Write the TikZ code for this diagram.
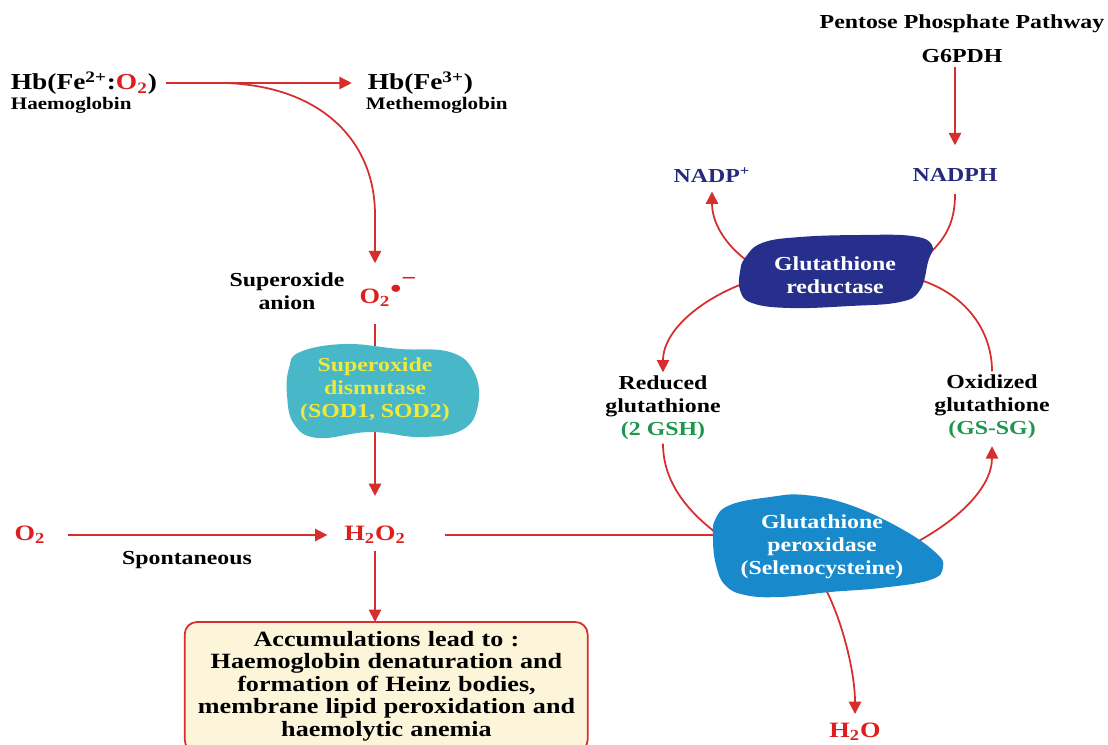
\documentclass[tikz,border=0pt]{standalone}
\usepackage{fontspec}
\setmainfont{Liberation Serif}[FakeStretch=1.2]
\usetikzlibrary{arrows.meta, backgrounds}

\definecolor{redline}{RGB}{214,45,45}
\definecolor{redtext}{RGB}{222,30,30}
\definecolor{navytext}{RGB}{40,40,125}
\definecolor{gshtext}{RGB}{30,150,80}
\definecolor{sodfill}{RGB}{72,184,200}
\definecolor{sodtext}{RGB}{240,232,60}
\definecolor{grfill}{RGB}{38,48,140}
\definecolor{gpxfill}{RGB}{24,138,204}
\definecolor{accfill}{RGB}{253,245,218}

\begin{document}
\begin{tikzpicture}[x=0.02cm, y=-0.02cm]
 \tikzset{
 	lbl/.style={font=\fontsize{11.3}{13}\selectfont\bfseries, align=center, inner sep=2pt},
 	hbf/.style={lbl, font=\fontsize{13}{15}\selectfont\bfseries},
 	subl/.style={lbl, font=\fontsize{10}{11}\selectfont\bfseries},
 	chem/.style={lbl, text=redtext, font=\fontsize{12.5}{14}\selectfont\bfseries},
 	coenz/.style={lbl, text=navytext},
 	enz/.style={lbl, text=white},
 	link/.style={draw=redline, line width=1pt},
 	react/.style={link, -{Triangle[length=7pt, width=7pt]}},
 	accbox/.style={draw=redline, line width=1pt, fill=accfill, rounded corners=7pt}
 }
 \useasboundingbox (0,0) rectangle (1108,744);

 % haemoglobin side
 \node[hbf, anchor=west] (hb) at (7,83) {Hb(Fe\textsuperscript{2+}:\textcolor{redtext}{O\textsubscript{2}})};
 \node[subl, anchor=west] (hbname) at (7,105) {Haemoglobin};
 \node[hbf, anchor=west] (methb) at (364,83) {Hb(Fe\textsuperscript{3+})};
 \node[subl, anchor=west] (methbname) at (362,105) {Methemoglobin};
 \coordinate (br) at (225,83);
 \node[lbl] (supan) at (287,291) {Superoxide\\anion};
 \node[chem] (so) at (375,292) {O\textsubscript{2}\rlap{\raisebox{.25em}{\fontsize{15}{15}\selectfont•}\raisebox{.8em}{−}}};
 \node[lbl, text=sodtext] (sod) at (375,390) {Superoxide\\dismutase\\(SOD1, SOD2)};
 \node[chem] (o2) at (30,535) {O\textsubscript{2}};
 \node[chem] (h2o2) at (375,535) {H\textsubscript{2}O\textsubscript{2}};
 \node[lbl] (spont) at (187,560) {Spontaneous};
 \node[lbl, anchor=north, text width=8.06cm, inner xsep=0pt, inner ysep=5pt,
 	font=\fontsize{12.4}{12.8}\selectfont\bfseries] (acc) at (386.5,622)
 	{Accumulations lead to :\\ Haemoglobin denaturation and\\ formation of Heinz bodies,\\ membrane lipid peroxidation and\\ haemolytic anemia};

 % glutathione side
 \node[lbl] (ppp) at (962,24) {Pentose Phosphate Pathway};
 \node[lbl] (g6pd) at (962,56) {G6PDH};
 \node[coenz] (nadph) at (955,175) {NADPH};
 \node[coenz] (nadp) at (712,175) {NADP\textsuperscript{+}};
 \node[enz] (gr) at (835,275) {Glutathione\\reductase};
 \node[lbl] (gsh) at (663,408) {Reduced\\glutathione\\\textcolor{gshtext}{(2 GSH)}};
 \node[lbl] (gssg) at (992,407) {Oxidized\\glutathione\\\textcolor{gshtext}{(GS-SG)}};
 \node[enz] (gpx) at (822,547) {Glutathione\\peroxidase\\(Selenocysteine)};
 \node[chem] (h2o) at (855,732) {H\textsubscript{2}O};

 \begin{scope}[on background layer]
 	\draw[react, shorten <=3pt, shorten >=7pt] (hb.east) -- (methb.west);
 	\draw[react, shorten >=6pt] (br) .. controls (320,86) and (375,140) .. (375,215) -- (so.north);
 	\draw[link, shorten <=8pt] (so.south) -- (sod.center);
 	\draw[react, shorten >=15pt] (sod.center) -- (h2o2.north);
 	\draw[react, shorten <=11pt, shorten >=7.5pt] (o2.east) -- (h2o2.west);
 	\draw[link, shorten <=20pt] (h2o2.east) -- (h2o2.east -| gpx.west);
 	\draw[react, shorten <=2pt] (h2o2.south) -- (h2o2.south |- acc.north);
 	\draw[react, shorten >=11pt] (g6pd.south -| nadph.north) -- (nadph.north);
 	\draw[link, shorten <=5pt] (nadph.south) .. controls +(0,45) and +(40,-25) .. (gr.east);
 	\draw[react, shorten >=3pt] (gr.west) .. controls +(-40,-20) and +(0,40) .. (nadp.south);
 	\draw[react] (gr.west) .. controls +(-60,15) and +(0,-45) .. (gsh.north);
 	\draw[link] (gr.east) .. controls +(60,10) and +(0,-45) .. (gssg.north);
 	\draw[link] (gsh.south) .. controls +(0,45) and +(-40,-25) .. (gpx.west);
 	\draw[react, shorten >=2pt] (gpx.east) .. controls +(50,-25) and +(0,45) .. (gssg.south);
 	\draw[react, shorten >=3pt] (gpx.south) .. controls +(18,30) and +(0,-50) .. (h2o.north);
 \end{scope}
 \begin{scope}[on background layer]
 	\fill[sodfill, shift={(sod.center)}] plot[smooth cycle, tension=0.7] coordinates
 		{(-75,-38) (-30,-46) (25,-41) (75,-38) (99,-18) (103,15) (87,40) (45,47)
 		 (-5,42) (-57,48) (-81,34) (-88,5) (-86,-22)};
 	\fill[grfill, shift={(gr.center)}] plot[smooth cycle, tension=0.7] coordinates
 		{(-90,-17) (-73,-32) (-35,-38) (25,-40) (77,-39) (97,-30) (93,-13) (85,15)
 		 (65,27) (15,31) (-45,33) (-83,28) (-95,15) (-95,-3)};
 	\fill[gpxfill, shift={(gpx.center)}] plot[smooth cycle, tension=0.7] coordinates
 		{(-107,-27) (-92,-42) (-52,-50) (-17,-52) (28,-42) (78,-19) (113,5) (121,20)
 		 (108,33) (58,41) (8,45) (-42,50) (-77,48) (-97,38) (-106,18) (-109,-7)};
 	\draw[accbox] (acc.north west) rectangle ++(403,130);
 \end{scope}
\end{tikzpicture}
\end{document}
